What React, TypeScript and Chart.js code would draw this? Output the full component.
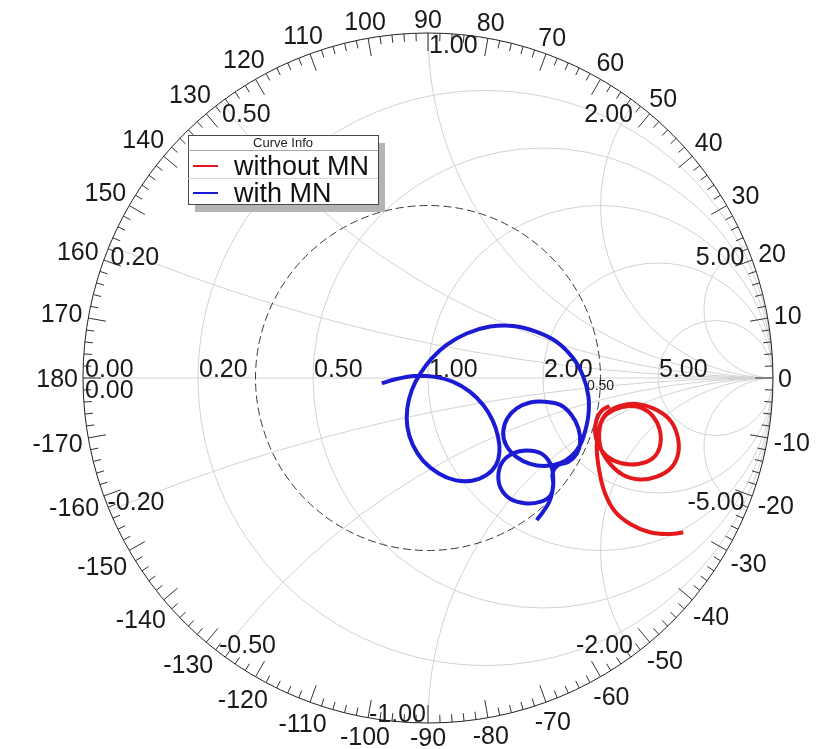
import React, { useEffect, useRef } from 'react';
import { Chart, registerables } from 'chart.js';

Chart.register(...registerables);

// ---- data (reflection coefficient, real / imaginary parts) ----
const seriesNames = ['without MN', 'with MN'];

const withoutMnRe = [0.740, 0.701, 0.643, 0.586, 0.542, 0.513, 0.497, 0.489, 0.497, 0.518, 0.557, 0.605, 0.653, 0.697, 0.721, 0.726, 0.706, 0.663, 0.614, 0.566, 0.528, 0.501, 0.497, 0.510, 0.542, 0.584, 0.622, 0.653, 0.672, 0.672, 0.651, 0.610, 0.561, 0.520, 0.494, 0.484, 0.489, 0.503, 0.526];
const withoutMnIm = [-0.448, -0.452, -0.447, -0.423, -0.387, -0.334, -0.272, -0.199, -0.141, -0.102, -0.081, -0.075, -0.088, -0.117, -0.160, -0.214, -0.259, -0.286, -0.294, -0.281, -0.249, -0.204, -0.151, -0.114, -0.091, -0.081, -0.088, -0.112, -0.151, -0.199, -0.233, -0.249, -0.247, -0.228, -0.194, -0.156, -0.120, -0.095, -0.081];

const withMnRe = [-0.134, -0.091, -0.043, 0.015, 0.073, 0.122, 0.160, 0.187, 0.203, 0.207, 0.197, 0.170, 0.127, 0.078, 0.030, -0.014, -0.044, -0.060, -0.060, -0.047, -0.023, 0.011, 0.054, 0.112, 0.180, 0.247, 0.315, 0.373, 0.421, 0.450, 0.465, 0.465, 0.455, 0.441, 0.416, 0.383, 0.339, 0.296, 0.255, 0.226, 0.218, 0.230, 0.257, 0.296, 0.339, 0.383, 0.416, 0.436, 0.441, 0.431, 0.407, 0.375, 0.361, 0.363, 0.354, 0.325, 0.281, 0.238, 0.211, 0.204, 0.216, 0.247, 0.286, 0.327, 0.354, 0.363, 0.361, 0.352, 0.334, 0.315];
const withMnIm = [-0.015, -0.003, 0.006, 0.004, -0.011, -0.040, -0.078, -0.122, -0.170, -0.214, -0.252, -0.281, -0.298, -0.296, -0.276, -0.240, -0.194, -0.141, -0.088, -0.035, 0.012, 0.057, 0.096, 0.129, 0.149, 0.151, 0.134, 0.105, 0.057, 0.004, -0.054, -0.107, -0.156, -0.194, -0.226, -0.247, -0.255, -0.249, -0.228, -0.194, -0.156, -0.117, -0.088, -0.071, -0.069, -0.078, -0.107, -0.146, -0.189, -0.220, -0.243, -0.254, -0.276, -0.310, -0.342, -0.359, -0.363, -0.350, -0.320, -0.281, -0.243, -0.218, -0.210, -0.218, -0.247, -0.286, -0.325, -0.358, -0.387, -0.412];

// grid values
const resistanceValues = [0.2, 0.5, 1, 2, 5];
const reactanceValues = [0.2, 0.5, 1, 2, 5];
const angleLabels = [0, 10, 20, 30, 40, 50, 60, 70, 80, 90, 100, 110, 120, 130, 140, 150, 160, 170, 180,
  -10, -20, -30, -40, -50, -60, -70, -80, -90, -100, -110, -120, -130, -140, -150, -160, -170];
const gammaCircle = 0.5;
const legendTitle = 'Curve Info';

const RED = '#e3191b';
const BLUE = '#1b1bd4';
const FONT = "Arial, 'Liberation Sans', sans-serif";

const smithPlugin = {
  id: 'smithGrid',
  beforeDatasetsDraw(chart: any) {
    const ctx = chart.ctx as CanvasRenderingContext2D;
    const xs = chart.scales.x;
    const ys = chart.scales.y;
    const X = (v: number) => xs.getPixelForValue(v);
    const Y = (v: number) => ys.getPixelForValue(v);
    const cx = X(0);
    const cy = Y(0);
    const R = X(1) - X(0);

    ctx.save();
    ctx.fillStyle = '#ffffff';
    ctx.fillRect(0, 0, chart.width, chart.height);

    // grid inside unit circle
    ctx.save();
    ctx.beginPath();
    ctx.arc(cx, cy, R, 0, Math.PI * 2);
    ctx.clip();
    ctx.strokeStyle = '#d2d2d2';
    ctx.lineWidth = 1;
    ctx.beginPath();
    ctx.moveTo(X(-1), cy);
    ctx.lineTo(X(1), cy);
    ctx.stroke();
    for (const r of resistanceValues) {
      ctx.beginPath();
      ctx.arc(X(r / (1 + r)), cy, R / (1 + r), 0, Math.PI * 2);
      ctx.stroke();
    }
    for (const x of reactanceValues) {
      for (const s of [1, -1]) {
        ctx.beginPath();
        ctx.arc(X(1), Y(s / x), R / x, 0, Math.PI * 2);
        ctx.stroke();
      }
    }
    ctx.restore();

    // dashed |gamma| circle
    ctx.save();
    ctx.strokeStyle = '#3a3a3a';
    ctx.lineWidth = 1;
    ctx.setLineDash([8, 4]);
    ctx.beginPath();
    ctx.arc(cx, cy, R * gammaCircle, 0, Math.PI * 2);
    ctx.stroke();
    ctx.restore();

    // outer circle
    ctx.strokeStyle = '#222';
    ctx.lineWidth = 1;
    ctx.beginPath();
    ctx.arc(cx, cy, R, 0, Math.PI * 2);
    ctx.stroke();

    // ticks
    ctx.strokeStyle = '#333';
    for (let a = 0; a < 360; a += 2) {
      const t = (a * Math.PI) / 180;
      const len = a % 10 === 0 ? 18 : 8;
      const c = Math.cos(t);
      const s = Math.sin(t);
      ctx.beginPath();
      ctx.moveTo(cx + c * R, cy - s * R);
      ctx.lineTo(cx + c * (R - len), cy - s * (R - len));
      ctx.stroke();
    }

    // angle labels
    ctx.fillStyle = '#1a1a1a';
    ctx.font = `25px ${FONT}`;
    ctx.textAlign = 'center';
    ctx.textBaseline = 'alphabetic';
    const halfH = 9;
    for (const a of angleLabels) {
      const t = (a * Math.PI) / 180;
      const c = Math.cos(t);
      const s = Math.sin(t);
      const txt = String(a);
      const w = ctx.measureText(txt).width;
      const d = R + 5 + Math.abs(c) * (w / 2) + Math.abs(s) * halfH;
      ctx.fillText(txt, cx + c * d, cy - s * d + halfH);
    }

    // resistance labels on real axis
    ctx.textAlign = 'left';
    ctx.fillText((0).toFixed(2), X(-1) + 2, cy - 1);
    ctx.fillText((0).toFixed(2), X(-1) + 2, cy + 20);
    for (const r of resistanceValues) {
      ctx.fillText(r.toFixed(2), X((r - 1) / (r + 1)) + 1, cy - 1);
    }

    // reactance labels on rim
    for (const x of reactanceValues) {
      const gr = (x * x - 1) / (x * x + 1);
      const gi = (2 * x) / (x * x + 1);
      const px = X(gr);
      const pyU = Y(gi);
      const pyL = Y(-gi);
      if (x <= 1) {
        ctx.textAlign = 'left';
        ctx.fillText(x.toFixed(2), px + 1, pyU + 20);
      } else {
        ctx.textAlign = 'right';
        ctx.fillText(x.toFixed(2), px - 2, pyU + 20);
      }
      if (x < 1) {
        ctx.textAlign = 'left';
        ctx.fillText('-' + x.toFixed(2), px - 2, pyL - 1);
      } else {
        ctx.textAlign = 'right';
        ctx.fillText('-' + x.toFixed(2), px - 2, pyL - 1);
      }
    }

    // gamma circle label
    ctx.font = `14px ${FONT}`;
    ctx.textAlign = 'center';
    ctx.fillText(gammaCircle.toFixed(2), X(gammaCircle), cy + 12);

    ctx.restore();
  },
  afterDatasetsDraw(chart: any) {
    const ctx = chart.ctx as CanvasRenderingContext2D;
    const area = chart.chartArea;
    const left = area.left + 105;
    const top = area.top + 102;
    const w = 190;
    const h = 69;
    ctx.save();
    // shadow
    ctx.fillStyle = '#b4b4b4';
    ctx.fillRect(left + 7, top + 8, w, h);
    ctx.fillStyle = '#ffffff';
    ctx.fillRect(left, top, w, h);
    ctx.strokeStyle = '#4a4a4a';
    ctx.lineWidth = 1;
    ctx.strokeRect(left + 0.5, top + 0.5, w, h);
    ctx.strokeStyle = '#a8a8a8';
    ctx.beginPath();
    ctx.moveTo(left, top + 15.5);
    ctx.lineTo(left + w, top + 15.5);
    ctx.stroke();
    ctx.strokeStyle = '#d8d8d8';
    ctx.beginPath();
    ctx.moveTo(left, top + 43.5);
    ctx.lineTo(left + w, top + 43.5);
    ctx.stroke();

    ctx.fillStyle = '#222';
    ctx.font = `13px ${FONT}`;
    ctx.textAlign = 'center';
    ctx.fillText(legendTitle, left + w / 2, top + 12);

    const colors = [RED, BLUE];
    const rowsY = [top + 31, top + 58];
    ctx.font = `27px ${FONT}`;
    ctx.textAlign = 'left';
    for (let i = 0; i < seriesNames.length; i++) {
      ctx.strokeStyle = colors[i];
      ctx.lineWidth = 2;
      ctx.beginPath();
      ctx.moveTo(left + 5, rowsY[i]);
      ctx.lineTo(left + 30, rowsY[i]);
      ctx.stroke();
      ctx.fillStyle = '#111';
      ctx.fillText(seriesNames[i], left + 46, rowsY[i] + 9);
    }
    ctx.restore();
  },
};

export default function App() {
  const ref = useRef<HTMLCanvasElement>(null);
  useEffect(() => {
    const canvas = ref.current;
    if (!canvas) return;
    const chart = new Chart(canvas, {
      type: 'scatter',
      data: {
        datasets: [
          {
            label: seriesNames[0],
            data: withoutMnRe.map((v, i) => ({ x: v, y: withoutMnIm[i] })),
            showLine: true,
            borderColor: RED,
            backgroundColor: RED,
            borderWidth: 4,
            pointRadius: 0,
            tension: 0.4,
            fill: false,
          },
          {
            label: seriesNames[1],
            data: withMnRe.map((v, i) => ({ x: v, y: withMnIm[i] })),
            showLine: true,
            borderColor: BLUE,
            backgroundColor: BLUE,
            borderWidth: 4,
            pointRadius: 0,
            tension: 0.4,
            fill: false,
          },
        ],
      },
      options: {
        responsive: false,
        maintainAspectRatio: false,
        animation: false,
        events: [],
        layout: { padding: { left: 83, right: 57, top: 33, bottom: 26 } },
        scales: {
          x: { type: 'linear', min: -1, max: 1, display: false },
          y: { type: 'linear', min: -1, max: 1, display: false },
        },
        plugins: {
          legend: { display: false },
          tooltip: { enabled: false },
        },
      } as any,
      plugins: [smithPlugin],
    });
    return () => chart.destroy();
  }, []);
  return (
    <div style={{ position: 'absolute', left: 0, top: 0, width: 830, height: 749, background: '#fff' }}>
      <canvas ref={ref} width={830} height={749} style={{ display: 'block' }} />
    </div>
  );
}
